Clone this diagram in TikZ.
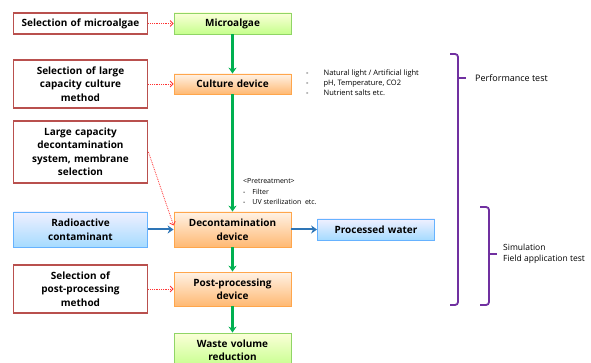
\documentclass[tikz,border=0pt]{standalone}
\usepackage{fontspec}
\setmainfont{Open Sans}
\usepackage{xcolor}
\usetikzlibrary{arrows.meta, positioning}
\definecolor{selred}{HTML}{B9504E}
\definecolor{flowgreen}{HTML}{00B050}
\definecolor{feedblue}{HTML}{2E75B6}
\definecolor{bracepurple}{HTML}{7030A0}
\tikzset{
    selbox/.style={rectangle, draw=selred, line width=1.8pt, fill=white, minimum width=134pt, text width=130pt, align=center, inner sep=1pt, font=\bfseries\fontsize{10}{13.5}\selectfont},
    algaebox/.style={rectangle, draw=green!45!olive!60, line width=0.8pt, top color=green!10!yellow!15, bottom color=green!50!yellow!45, minimum width=117pt, text width=114pt, align=center, inner sep=1pt, font=\bfseries\fontsize{10}{13.5}\selectfont},
    devicebox/.style={rectangle, draw=orange!70, line width=0.8pt, top color=orange!10, bottom color=orange!55, minimum width=117pt, text width=114pt, align=center, inner sep=1pt, font=\bfseries\fontsize{10}{13.5}\selectfont},
    waterbox/.style={rectangle, draw=blue!50!cyan!60, line width=0.8pt, top color=blue!6, bottom color=blue!40!cyan!35, minimum width=117pt, text width=114pt, align=center, inner sep=1pt, font=\bfseries\fontsize{10}{13.5}\selectfont},
    flow/.style={-{Stealth[length=6pt, width=8pt]}, line width=2.2pt, draw=flowgreen},
    feed/.style={-{Stealth[length=6pt, width=8pt]}, line width=2pt, draw=feedblue},
    hint/.style={-{Straight Barb[length=3pt, width=6pt]}, densely dotted, line width=0.8pt, draw=red!80},
    testbrace/.style={draw=bracepurple, line width=1.8pt, rounded corners=3pt},
    note/.style={font=\fontsize{7.5}{10}\selectfont, align=left, inner sep=0pt}
}

\begin{document}
\begin{tikzpicture}[x=1pt, y=-1pt]
    \useasboundingbox (0,0) rectangle (591,363);

    % main flow
    \node (micro) [algaebox, minimum height=21pt] at (232.5,23.5) {Microalgae};
    \node (culture) [devicebox, minimum height=20pt] at (232.5,84) {Culture device};
    \node (decon) [devicebox, minimum height=35pt] at (232.5,229.5) {Decontamination\\device};
    \node (post) [devicebox, minimum height=34pt] at (232.5,289) {Post-processing\\device};
    \node (waste) [algaebox, minimum height=34pt] at (232.5,350) {Waste volume\\reduction};
    \node (water) [waterbox, minimum height=21pt, minimum width=117pt] at (376,229.5) {Processed water};

    % selections
    \node (selalgae) [selbox, minimum height=21pt] at (80.5,23.5) {Selection of microalgae};
    \node (selculture) [selbox, minimum height=48pt] at (80.5,84) {Selection of large\\capacity culture\\method};
    \node (selsystem) [selbox, minimum height=62pt] at (80.5,152) {Large capacity\\decontamination\\system, membrane\\selection};
    \node (radio) [waterbox, minimum width=134pt, text width=130pt, minimum height=35pt] at (80.5,229.5) {Radioactive\\contaminant};
    \node (selpost) [selbox, minimum height=48pt] at (80.5,289) {Selection of\\post-processing\\method};

    % notes
    \node (culturenote) [note, anchor=west] at (306,84) {\begin{tabular}{@{}l@{\hspace{15pt}}l@{}}
        - & Natural light / Artificial light\\
        - & pH, Temperature, CO2\\
        - & Nutrient salts etc.
    \end{tabular}};
    \node (pretreat) [note, font=\fontsize{7}{10.5}\selectfont, anchor=west] at (243,192) {\begin{tabular}{@{}l@{\hspace{7pt}}l@{}}
        \multicolumn{2}{@{}l}{<Pretreatment>}\\
        - & Filter\\
        - & UV sterilization\ \ etc.
    \end{tabular}};

    \draw[flow] (micro) -- (culture);
    \draw[flow] (culture) -- (decon);
    \draw[flow] (decon) -- (post);
    \draw[flow] (post) -- (waste);
    \draw[feed] (radio) -- (decon);
    \draw[feed] (decon) -- (water);

    \draw[hint] (selalgae) -- (micro);
    \draw[hint] (selculture) -- (culture);
    \draw[hint] (selsystem.east) -- ([yshift=4pt]decon.west);
    \draw[hint] (selpost) -- (post);

    % test braces
    \draw[testbrace] (450,54) -| (458,305) -- (450,305);
    \draw[testbrace] (458,78) -- (466,78);
    \node (perf) [anchor=west, font=\fontsize{9}{10}\selectfont, inner sep=0pt] at (475,78) {Performance test};

    \draw[testbrace] (480,207) -| (489,305) -- (480,305);
    \draw[testbrace] (489,254) -- (497,254);
    \node (sim) [anchor=west, align=left, font=\fontsize{8.5}{11}\selectfont, inner sep=0pt] at (503,254) {Simulation\\Field application test};
\end{tikzpicture}
\end{document}
